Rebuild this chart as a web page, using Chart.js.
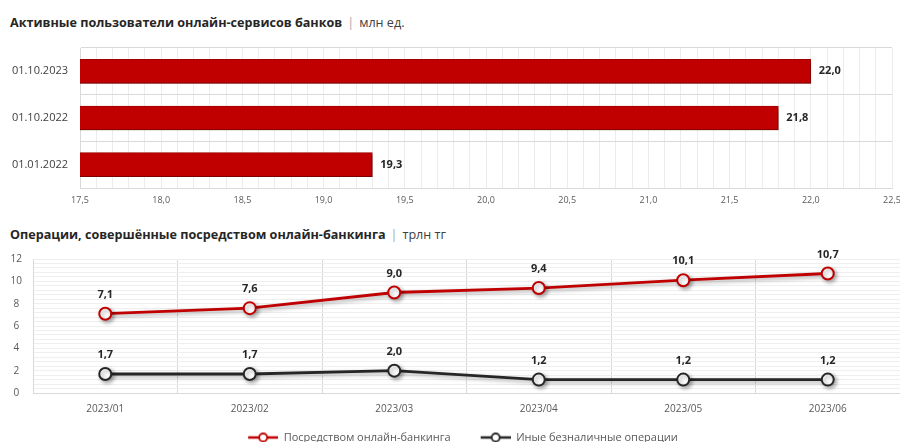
<!DOCTYPE html>
<html>
<head>
<meta charset="utf-8">
<script src="https://cdn.jsdelivr.net/npm/chart.js@4.4.0/dist/chart.umd.min.js"></script>
<style>
  html, body { margin: 0; padding: 0; background: #fff; overflow: hidden; }
  body { width: 900px; height: 442px; position: relative; font-family: "Open Sans", sans-serif; }
  .title { position: absolute; left: 10px; font-size: 12.6px; font-weight: 700; color: #262626; white-space: nowrap; line-height: 16px; }
  .title .sep { font-weight: 400; color: #a6a6a6; margin: 0 5px; }
  .title .unit { font-weight: 400; color: #404040; }
  #usersBox { position: absolute; left: 0; top: 0; width: 900px; height: 215px; }
  #opsBox { position: absolute; left: 0; top: 240px; width: 900px; height: 213px; }
</style>
</head>
<body>

<div class="title" style="top:15px">Активные пользователи онлайн-сервисов банков<span class="sep">|</span><span class="unit">млн ед.</span></div>
<div class="title" style="top:227px">Операции, совершённые посредством онлайн-банкинга<span class="sep">|</span><span class="unit">трлн тг</span></div>

<div id="usersBox"><canvas id="usersChart"></canvas></div>
<div id="opsBox"><canvas id="opsChart"></canvas></div>

<script>
/* ---------- data ---------- */
const userDates = ["01.10.2023", "01.10.2022", "01.01.2022"];
const userValues = [22.0, 21.8, 19.3];

const months = ["2023/01", "2023/02", "2023/03", "2023/04", "2023/05", "2023/06"];
const onlineBanking = [7.1, 7.6, 9.0, 9.4, 10.1, 10.7];
const otherCashless = [1.7, 1.7, 2.0, 1.2, 1.2, 1.2];
const seriesNames = ["Посредством онлайн-банкинга", "Иные безналичные операции"];

/* ---------- helpers ---------- */
const RED = "#c00000";
const DARK = "#262626";
const FONT = "'Open Sans', sans-serif";

const fmt = v => Number(v).toFixed(1).replace(".", ",");

// soft drop shadow under bars / lines, like the Excel original
const shadowPlugin = {
    id: "softShadow",
    beforeDatasetsDraw(chart) {
        const c = chart.ctx;
        c.save();
        c.shadowColor = "rgba(0,0,0,0.35)";
        c.shadowBlur = 4;
        c.shadowOffsetX = 2;
        c.shadowOffsetY = 2;
    },
    afterDatasetsDraw(chart) {
        chart.ctx.restore();
    }
};

const barLabels = {
    id: "barLabels",
    afterDraw(chart) {
        const c = chart.ctx;
        const ds = chart.data.datasets[0];
        c.save();
        c.font = "bold 11px " + FONT;
        c.fillStyle = DARK;
        c.textAlign = "left";
        c.textBaseline = "middle";
        chart.getDatasetMeta(0).data.forEach((bar, i) => {
            c.fillText(fmt(ds.data[i]), bar.x + 8, bar.y);
        });
        c.restore();
    }
};

const pointLabels = {
    id: "pointLabels",
    afterDraw(chart) {
        const c = chart.ctx;
        c.save();
        c.font = "bold 11px " + FONT;
        c.fillStyle = DARK;
        c.textAlign = "center";
        c.textBaseline = "middle";
        chart.data.datasets.forEach((ds, d) => {
            chart.getDatasetMeta(d).data.forEach((pt, i) => {
                c.fillText(fmt(ds.data[i]), pt.x, pt.y - 19);
            });
        });
        c.restore();
    }
};

// legend marker: short line with a hollow circle (left part left blank as item gap)
function legendMark(color) {
    const cv = document.createElement("canvas");
    cv.width = 56;
    cv.height = 12;
    const g = cv.getContext("2d");
    g.strokeStyle = color;
    g.lineWidth = 2.5;
    g.beginPath();
    g.moveTo(26, 6);
    g.lineTo(56, 6);
    g.stroke();
    g.beginPath();
    g.arc(41, 6, 4, 0, Math.PI * 2);
    g.fillStyle = "#fff";
    g.fill();
    g.lineWidth = 1.8;
    g.stroke();
    return cv;
}

const noSidePadding = s => { s.paddingLeft = 0; s.paddingRight = 0; };

/* ---------- top: horizontal bars ---------- */
new Chart(document.getElementById("usersChart"), {
    type: "bar",
    data: {
        labels: userDates,
        datasets: [{
            data: userValues,
            backgroundColor: RED,
            borderColor: "#a80000",
            borderWidth: 1,
            borderSkipped: false,
            barThickness: 24
        }]
    },
    options: {
        indexAxis: "y",
        responsive: true,
        maintainAspectRatio: false,
        animation: false,
        layout: { padding: { top: 48, right: 8, left: 0, bottom: 0 } },
        plugins: { legend: { display: false }, tooltip: { enabled: false } },
        scales: {
            x: {
                type: "linear",
                position: "bottom",
                min: 17.5,
                max: 22.5,
                ticks: {
                    stepSize: 0.5,
                    color: "#595959",
                    font: { family: FONT, size: 9 },
                    padding: 7,
                    callback: v => fmt(v)
                },
                grid: { color: "#c8c8c8", drawTicks: false },
                border: { display: true, color: "#d9d9d9", dash: [3, 3] },
                afterFit: s => { s.height = 27; noSidePadding(s); }
            },
            xMinor: {
                type: "linear",
                axis: "x",
                position: "bottom",
                min: 17.5,
                max: 22.5,
                ticks: { display: false, stepSize: 0.1, maxTicksLimit: 1000 },
                grid: { color: "#ececec", drawTicks: false, z: -1 },
                border: { display: false },
                afterFit: s => { s.height = 0; noSidePadding(s); }
            },
            y: {
                ticks: {
                    color: "#404040",
                    font: { family: FONT, size: 11 },
                    padding: 12
                },
                grid: { color: "#d9d9d9", drawTicks: false, offset: true },
                border: { color: "#d9d9d9" },
                afterFit: s => { s.width = 80; }
            }
        }
    },
    plugins: [shadowPlugin, barLabels]
});

/* ---------- bottom: lines ---------- */
const lineColors = [RED, DARK];
const marks = lineColors.map(legendMark);

new Chart(document.getElementById("opsChart"), {
    type: "line",
    data: {
        labels: months,
        datasets: [onlineBanking, otherCashless].map((vals, i) => ({
            label: seriesNames[i],
            data: vals,
            borderColor: lineColors[i],
            borderWidth: 2.8,
            pointRadius: 6,
            pointBorderWidth: 2,
            pointBackgroundColor: "#fff",
            pointBorderColor: lineColors[i],
            tension: 0
        }))
    },
    options: {
        responsive: true,
        maintainAspectRatio: false,
        animation: false,
        layout: { autoPadding: false, padding: { top: 19, right: 0, left: 0, bottom: 0 } },
        plugins: {
            tooltip: { enabled: false },
            legend: {
                position: "bottom",
                labels: {
                    usePointStyle: true,
                    pointStyleWidth: 56,
                    padding: 4,
                    color: "#595959",
                    font: { family: FONT, size: 11 },
                    generateLabels(chart) {
                        const items = Chart.defaults.plugins.legend.labels.generateLabels(chart);
                        items.forEach((it, i) => { it.pointStyle = marks[i]; });
                        return items;
                    }
                }
            }
        },
        scales: {
            x: {
                offset: true,
                ticks: {
                    color: "#595959",
                    font: { family: FONT, size: 10 },
                    padding: 10
                },
                grid: { color: "#d9d9d9", offset: true, drawTicks: false },
                border: { color: "#d9d9d9" },
                afterFit: s => { s.height = 35; noSidePadding(s); }
            },
            y: {
                min: 0,
                max: 12,
                ticks: {
                    stepSize: 2,
                    color: "#595959",
                    font: { family: FONT, size: 10 },
                    padding: 11,
                    crossAlign: "center"
                },
                grid: { color: "#c8c8c8", drawTicks: false },
                border: { color: "#d9d9d9", dash: [4, 3] },
                afterFit: s => { s.width = 33; }
            },
            yMinor: {
                type: "linear",
                axis: "y",
                position: "left",
                min: 0,
                max: 12,
                ticks: { display: false, stepSize: 0.4, maxTicksLimit: 1000 },
                grid: { color: "#efefef", drawTicks: false, z: -1 },
                border: { display: false },
                afterFit: s => { s.width = 0; }
            }
        }
    },
    plugins: [shadowPlugin, pointLabels]
});
</script>
</body>
</html>
